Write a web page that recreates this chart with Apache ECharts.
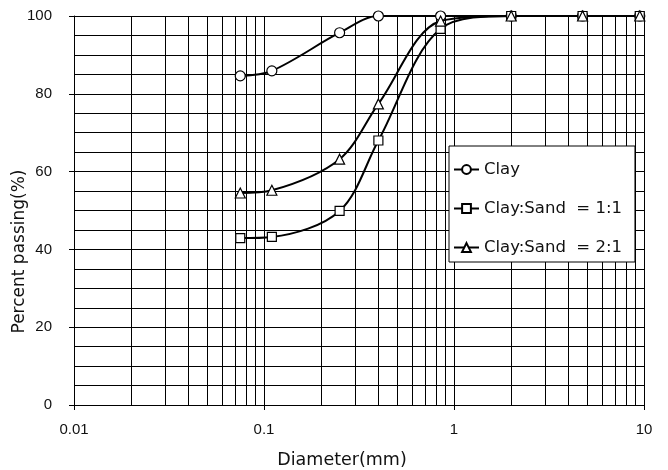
<!DOCTYPE html>
<html>
<head>
<meta charset="utf-8">
<script src="https://cdn.jsdelivr.net/npm/echarts@6/dist/echarts.min.js"></script>
<style>
  html, body { margin: 0; padding: 0; background: #fff; }
  #chart { width: 668px; height: 470px; }
</style>
</head>
<body>
<div id="chart"></div>
<script>
// Sieve sizes (mm) and percent passing for each mix
var diameters = [0.075, 0.11, 0.25, 0.4, 0.85, 2.0, 4.75, 9.5];
var clay       = [84.6, 85.9, 95.7, 100, 100, 100, 100, 100];
var claySand11 = [42.9, 43.2, 49.9, 68.0, 96.7, 100, 100, 100];
var claySand21 = [54.5, 55.2, 63.2, 77.4, 98.7, 100, 100, 100];
var seriesNames = ['Clay', 'Clay:Sand  = 1:1', 'Clay:Sand  = 2:1'];

// Intermediate log-grid positions (2..9 within each decade)
var minorGrid = [];
[0.01, 0.1, 1].forEach(function (d) {
  for (var k = 2; k <= 9; k++) minorGrid.push(+(d * k).toPrecision(3));
});

function pairs(ys) {
  return diameters.map(function (x, i) { return [x, ys[i]]; });
}

var FONT = 'DejaVu Sans';
var LABEL_FONT = 'Liberation Sans';
var INK = '#000';
var GRID = '#000';

function curve(name, values, symbol, size) {
  return {
    name: name,
    type: 'line',
    data: pairs(values),
    smooth: 0.33,
    symbol: symbol,
    symbolSize: size,
    showAllSymbol: true,
    z: 5,
    lineStyle: { color: INK, width: 2 },
    itemStyle: { color: '#fff', borderColor: INK, borderWidth: 1.2 },
    emphasis: { disabled: true },
    animation: false
  };
}

var chart = echarts.init(document.getElementById('chart'), null, { renderer: 'canvas' });
chart.setOption({
  backgroundColor: '#fff',
  animation: false,
  grid: { left: 74, right: 24, top: 16, bottom: 65, containLabel: false, outerBoundsMode: 'none' },
  legend: {
    data: seriesNames,
    orient: 'vertical',
    left: 449,
    top: 146,
    padding: [15, 13, 6, 4],
    itemGap: 22,
    itemWidth: 25,
    itemHeight: 11,
    backgroundColor: '#fff',
    borderColor: INK,
    borderWidth: 1,
    textStyle: { fontFamily: FONT, fontSize: 16.5, color: '#111' },
    selectedMode: false
  },
  xAxis: {
    type: 'log',
    logBase: 10,
    min: 0.01,
    max: 10,
    name: 'Diameter(mm)',
    nameLocation: 'middle',
    nameGap: 46,
    nameMoveOverlap: false,
    nameTextStyle: { fontFamily: FONT, fontSize: 17.5, color: '#111', padding: [0, 34, 0, 0] },
    axisLine: { show: true, lineStyle: { color: INK, width: 1 } },
    axisTick: { show: true, length: 5, lineStyle: { color: INK } },
    axisLabel: {
      fontFamily: LABEL_FONT, fontSize: 15, color: '#111', margin: 17,
      formatter: function (v) { return String(v); }
    },
    splitLine: { show: true, lineStyle: { color: GRID, width: 1 } }
  },
  yAxis: {
    type: 'value',
    min: 0,
    max: 100,
    interval: 20,
    name: 'Percent passing(%)',
    nameLocation: 'middle',
    nameGap: 46,
    nameMoveOverlap: false,
    nameTextStyle: { fontFamily: FONT, fontSize: 17, color: '#111', padding: [0, 82, 0, 0] },
    axisLine: { show: true, lineStyle: { color: INK, width: 1 } },
    axisTick: { show: true, length: 5, lineStyle: { color: INK } },
    axisLabel: { fontFamily: LABEL_FONT, fontSize: 15, color: '#111', margin: 22 },
    splitLine: { show: true, lineStyle: { color: GRID, width: 1 } },
    minorTick: { show: false, splitNumber: 4 },
    minorSplitLine: { show: true, lineStyle: { color: GRID, width: 1 } }
  },
  series: [
    {
      // vertical log-cycle grid lines at 2..9 of each decade
      name: 'log grid',
      type: 'custom',
      data: minorGrid.map(function (v) { return [v, 0]; }),
      encode: { x: 0, y: 1 },
      silent: true,
      z: 1,
      animation: false,
      renderItem: function (params, api) {
        var bottom = api.coord([api.value(0), 0]);
        var top = api.coord([api.value(0), 100]);
        var px = Math.round(bottom[0]) + 0.5;
        return {
          type: 'line',
          silent: true,
          shape: { x1: px, y1: top[1], x2: px, y2: bottom[1] },
          style: { stroke: GRID, lineWidth: 1 }
        };
      }
    },
    curve(seriesNames[0], clay, 'circle', 10),
    curve(seriesNames[1], claySand11, 'rect', 9),
    curve(seriesNames[2], claySand21, 'triangle', 10)
  ]
});
</script>
</body>
</html>
